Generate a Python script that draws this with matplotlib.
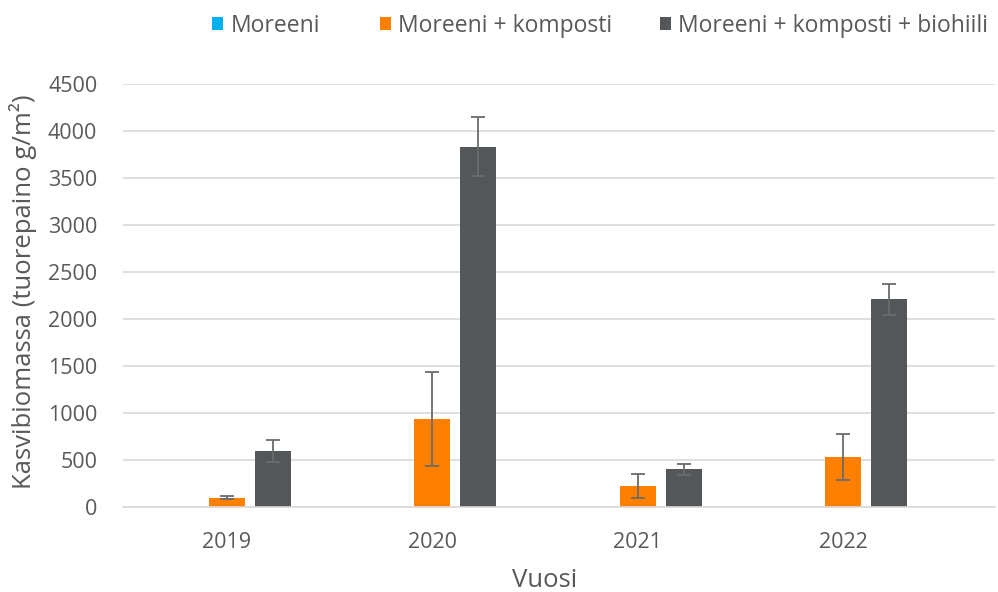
import numpy as np
import matplotlib
matplotlib.use('Agg')
import matplotlib.pyplot as plt
from matplotlib.patches import Patch

years = ['2019', '2020', '2021', '2022']
series = ['Moreeni', 'Moreeni + komposti', 'Moreeni + komposti + biohiili']
moreeni = [0, 0, 0, 0]
moreeni_err = [0, 0, 0, 0]
komposti = [100, 935, 225, 530]
komposti_err = [20, 500, 125, 245]
biohiili = [595, 3835, 400, 2210]
biohiili_err = [115, 315, 57, 166]

colors = ['#00B0F0', '#FF8000', '#53575A']
text_c = '#595959'
grid_c = '#D9D9D9'

plt.rcParams.update({'font.family': 'Open Sans', 'font.size': 15})

fig = plt.figure(figsize=(9.98, 5.92), dpi=100)
ax = fig.add_axes([123 / 998, 85 / 592, 872 / 998, 423 / 592])

x = np.arange(len(years))
w = 0.175
step = 0.224
vals = [moreeni, komposti, biohiili]
errs = [moreeni_err, komposti_err, biohiili_err]
for i, (v, e, c) in enumerate(zip(vals, errs, colors)):
    pos = x + (i - 1) * step
    ax.bar(pos, v, width=w, color=c, zorder=2)
    if i > 0:
        ax.errorbar(pos, v, yerr=e, fmt='none', ecolor='#6B6B6B', elinewidth=1.3,
                    capsize=5, capthick=1.3, zorder=3)

ax.set_ylim(0, 4500)
ax.set_yticks(np.arange(0, 4501, 500))
ax.set_xlim(-0.506, 3.74)
ax.set_xticks(x)
ax.set_xticklabels(years)
ax.yaxis.grid(True, color=grid_c, linewidth=1.2, zorder=0)
ax.set_axisbelow(True)
for s in ['top', 'right', 'left']:
    ax.spines[s].set_visible(False)
ax.spines['bottom'].set_color(grid_c)
ax.spines['bottom'].set_linewidth(1.2)
ax.tick_params(axis='both', length=0, colors=text_c, labelsize=15.5)
ax.tick_params(axis='x', pad=18)
ax.tick_params(axis='y', pad=18.5)

ax.set_ylabel('Kasvibiomassa (tuorepaino g/m²)', color=text_c, fontsize=18.5)
ax.yaxis.set_label_coords(-0.099, 0.51)
ax.set_xlabel('Vuosi', color=text_c, fontsize=18.5)
ax.xaxis.set_label_coords(0.484, -0.145)

# legend entries are spaced unevenly in the original, so place each one
legend_x = [212, 380, 660]
for lab, c, lx in zip(series, colors, legend_x):
    leg = fig.legend([Patch(facecolor=c, edgecolor='none')], [lab], loc='center left',
                     bbox_to_anchor=(lx / 998, 1 - 26 / 592), frameon=False, fontsize=16.5,
                     handlelength=0.5, handleheight=0.5, handletextpad=0.3,
                     borderaxespad=0, borderpad=0)
    for t in leg.get_texts():
        t.set_color(text_c)

fig.savefig('out.png', dpi=100, facecolor='white')
